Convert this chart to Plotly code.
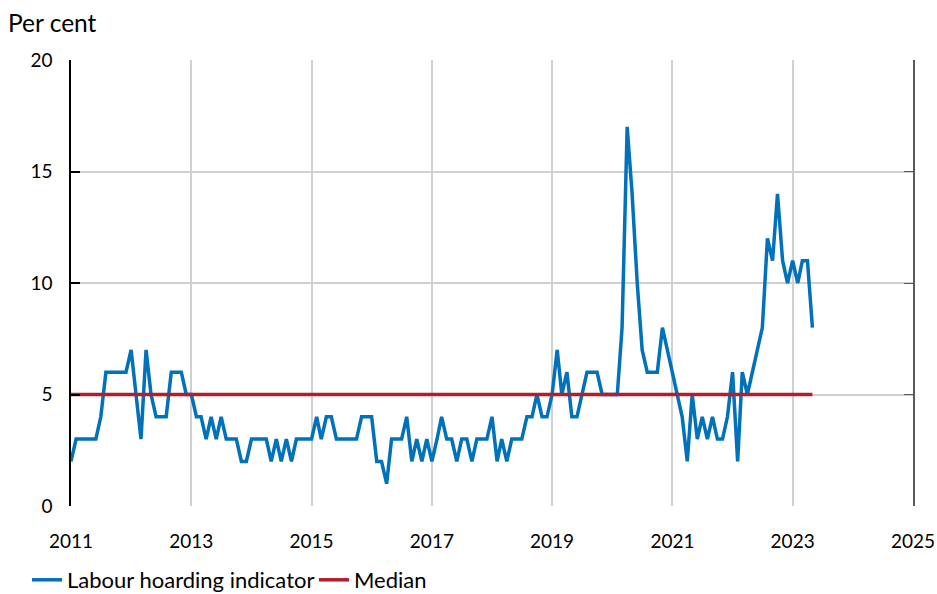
import plotly.graph_objects as go

start_year = 2011
indicator = [
    2, 3, 3, 3, 3, 3, 4, 6, 6, 6, 6, 6,      # 2011
    7, 5, 3, 7, 5, 4, 4, 4, 6, 6, 6, 5,      # 2012
    5, 4, 4, 3, 4, 3, 4, 3, 3, 3, 2, 2,      # 2013
    3, 3, 3, 3, 2, 3, 2, 3, 2, 3, 3, 3,      # 2014
    3, 4, 3, 4, 4, 3, 3, 3, 3, 3, 4, 4,      # 2015
    4, 2, 2, 1, 3, 3, 3, 4, 2, 3, 2, 3,      # 2016
    2, 3, 4, 3, 3, 2, 3, 3, 2, 3, 3, 3,      # 2017
    4, 2, 3, 2, 3, 3, 3, 4, 4, 5, 4, 4,      # 2018
    5, 7, 5, 6, 4, 4, 5, 6, 6, 6, 5, 5,      # 2019
    5, 5, 8, 17, 14, 10, 7, 6, 6, 6, 8, 7,   # 2020
    6, 5, 4, 2, 5, 3, 4, 3, 4, 3, 3, 4,      # 2021
    6, 2, 6, 5, 6, 7, 8, 12, 11, 14, 11, 10, # 2022
    11, 10, 11, 11, 8,                       # 2023
]
median_value = 5
dates = [f"{start_year + i // 12}-{i % 12 + 1:02d}-01" for i in range(len(indicator))]
median = [median_value] * len(indicator)

x_ticks = [f"{y}-01-01" for y in range(2011, 2026, 2)]
x_tick_labels = [str(y) for y in range(2011, 2026, 2)]
y_ticks = [0, 5, 10, 15, 20]

FONT = "Lato"
W, H = 937, 594
fig = go.Figure()
fig.add_trace(go.Scatter(x=dates, y=indicator, mode="lines", name="Labour hoarding indicator",
                         line=dict(color="#0071BA", width=3.5)))
fig.add_trace(go.Scatter(x=dates, y=median, mode="lines", name="Median",
                         line=dict(color="#B71C2B", width=3.5)))
# invisible trace for right axis
fig.add_trace(go.Scatter(x=[dates[0]], y=[0], yaxis="y2", mode="lines", showlegend=False,
                         hoverinfo="skip", line=dict(width=0)))

fig.update_layout(
    width=W, height=H,
    margin=dict(l=71, r=24, t=60, b=88, autoexpand=False),
    paper_bgcolor="white", plot_bgcolor="white",
    font=dict(family=FONT, size=19, color="black"),
    showlegend=True,
    legend=dict(orientation="h", xref="container", yref="container", x=27 / W, y=1 - 580 / H,
                xanchor="left", yanchor="middle", font=dict(size=22), itemwidth=30,
                entrywidth=242, entrywidthmode="pixels", traceorder="normal"),
    xaxis=dict(range=["2011-01-01", "2025-01-01"], tickvals=x_ticks, ticktext=x_tick_labels,
               showgrid=True, gridcolor="#D0D0D0", gridwidth=1.5, showline=False,
               zeroline=False, ticks="", ticklabelstandoff=22, automargin=False),
    yaxis=dict(range=[0, 20], tickvals=y_ticks, showgrid=True, gridcolor="#D0D0D0", gridwidth=1.5,
               showline=True, linecolor="black", linewidth=1.5, ticks="inside", ticklen=9,
               tickcolor="black", tickwidth=1.5, zeroline=False, ticklabelstandoff=13,
               automargin=False),
    yaxis2=dict(range=[0, 20], tickvals=y_ticks, overlaying="y", side="right", showgrid=False,
                showline=True, linecolor="#595959", linewidth=1.5, ticks="inside", ticklen=9,
                tickcolor="#595959", showticklabels=False, zeroline=False, automargin=False),
    annotations=[dict(text="Per cent", xref="paper", yref="paper", x=-0.0772, y=1.085,
                      xanchor="left", yanchor="middle", showarrow=False, font=dict(size=24.5))],
)
fig.write_html("out.html", config={"displayModeBar": False},
               post_script="document.body.style.margin='0px';")
